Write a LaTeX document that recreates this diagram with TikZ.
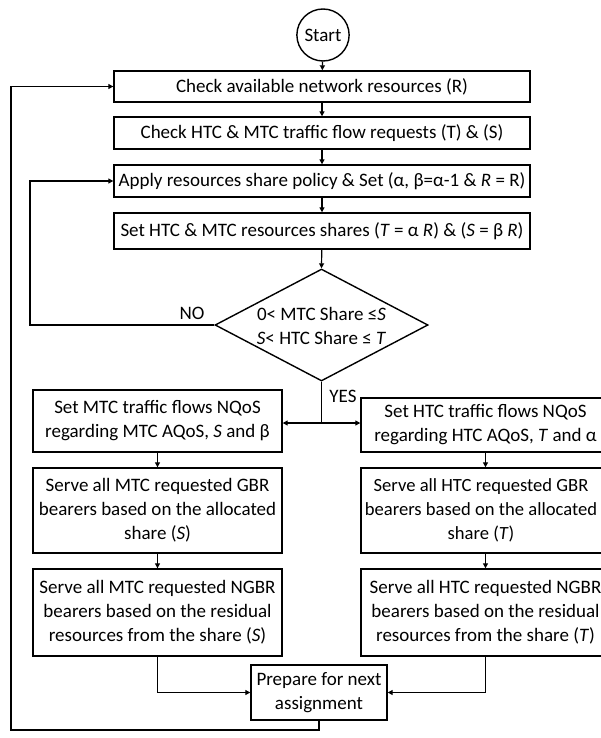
\documentclass[tikz,border=0pt]{standalone}
\usepackage{fontspec}
\setmainfont{Carlito}
\usetikzlibrary{arrows.meta,shapes.geometric}
\begin{document}
\begin{tikzpicture}[x=1pt,y=-1pt,
  every node/.style={font=\fontsize{19}{24}\selectfont},
  box/.style={draw,line width=1.4pt,rectangle,inner sep=0pt,align=center},
  conn/.style={line width=1.2pt,-{Triangle[length=5pt,width=5pt]}},
  plain/.style={line width=1.2pt}]
\useasboundingbox (0,0) rectangle (601,738);
\clip (0,0) rectangle (601,738);
\fill[white] (0,0) rectangle (601,738);
% nodes
\node[draw,line width=1.4pt,ellipse,minimum width=46pt,minimum height=52pt,inner sep=0pt] (start) at (323,35) {Start};
\node[box,minimum width=416pt,minimum height=31pt] (b1) at (322,86.5) {Check available network resources (R)};
\node[box,minimum width=416pt,minimum height=32pt] (b2) at (322,133) {Check HTC \& MTC traffic flow requests (T) \& (S)};
\node[box,minimum width=416pt,minimum height=32pt] (b3) at (322,181) {Apply resources share policy \& Set (α, β=α-1 \& \textit{R} = R)};
\node[box,minimum width=416pt,minimum height=36pt] (b4) at (322,231) {Set HTC \& MTC resources shares (\textit{T} = α \textit{R}) \& (\textit{S} = β \textit{R})};
\node[draw,line width=1.4pt,diamond,minimum width=213pt,minimum height=112pt,inner sep=0pt] (dia) at (321.5,325) {};
\node[align=center,inner sep=0pt] (diat) at (321.5,325.5) {0< MTC Share ≤\textit{S}\\\textit{S}< HTC Share ≤ \textit{T}};
\node[box,minimum width=249pt,minimum height=62pt] (l1) at (157.5,421) {Set MTC traffic flows NQoS\\regarding MTC AQoS, \textit{S} and β};
\node[box,minimum width=249pt,minimum height=85pt] (l2) at (157.5,510.5) {Serve all MTC requested GBR\\bearers based on the allocated\\share (\textit{S})};
\node[box,minimum width=249pt,minimum height=87pt] (l3) at (157.5,612.5) {Serve all MTC requested NGBR\\bearers based on the residual\\resources from the share (\textit{S})};
\node[box,minimum width=249pt,minimum height=54pt] (r1) at (485.5,425) {Set HTC traffic flows NQoS\\regarding HTC AQoS, \textit{T} and α};
\node[box,minimum width=249pt,minimum height=85pt] (r2) at (485.5,510.5) {};
\node[align=center,inner sep=0pt,font=\fontsize{18.6}{24}\selectfont] (r2t) at (481,510.5) {Serve all HTC requested GBR\\bearers based on the allocated\\share (\textit{T})};
\node[box,minimum width=249pt,minimum height=87pt] (r3) at (485.5,612.5) {Serve all HTC requested NGBR\\bearers based on the residual\\resources from the share (\textit{T})};
\node[box,minimum width=136pt,minimum height=55pt] (prep) at (319,692.5) {Prepare for next\\assignment};
\node (no) at (192,313) {NO};
\node (yes) at (343,396) {YES};
% coordinates
\coordinate (split) at (321.5,423);
\coordinate (noturn) at (30,325);
\coordinate (loopbot) at (319,730);
\coordinate (loopleft) at (11,730);
% connectors
\draw[conn] (start) -- (b1);
\draw[conn] (b1) -- (b2);
\draw[conn] (b2) -- (b3);
\draw[conn] (b3) -- (b4);
\draw[conn] (b4) -- (dia.north);
\draw[plain] (dia.south) -- (split);
\draw[conn] (split) -- (split -| l1.east);
\draw[conn] (split) -- (split -| r1.west);
\draw[conn] (dia.west) -- (noturn) |- (b3.west);
\draw[conn] (l1) -- (l2);
\draw[conn] (l2) -- (l3);
\draw[conn] (r1) -- (r2);
\draw[conn] (r2) -- (r3);
\draw[conn] (l3.south) |- (prep.west);
\draw[conn] (r3.south) |- (prep.east);
\draw[conn] (prep.south) -- (loopbot) -- (loopleft) |- (b1.west);
\end{tikzpicture}
\end{document}
